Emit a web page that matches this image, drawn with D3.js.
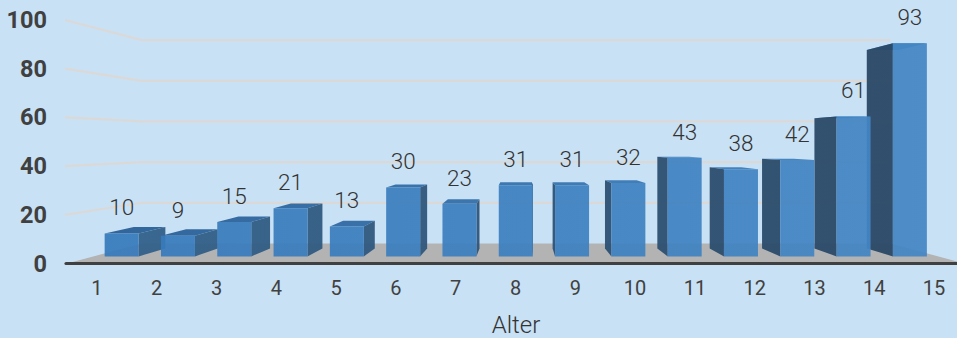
<!DOCTYPE html>
<html>
<head>
<meta charset="utf-8">
<script src="https://cdn.jsdelivr.net/npm/d3@7"></script>
<style>
  html, body { margin: 0; padding: 0; background: #c8e1f5; }
  svg { display: block; }
</style>
</head>
<body>
<svg id="chart" width="957" height="338"></svg>
<script>
const categories = ["1","2","3","4","5","6","7","8","9","10","11","12","13","14","15"];
const values = [10,9,15,21,13,30,23,31,31,32,43,38,42,61,93];
const valueTicks = [0,20,40,60,80,100];
const axisTitle = "Alter";

const svg = d3.select("#chart");
const x = d3.scaleBand().domain(categories).range([67, 964]);
const y = d3.scaleLinear().domain([0, 100]).range([263.5, 20]);

// One-point perspective: depth 0 is the front of the floor, and points recede to the vanishing point.
const vanish = { x: 520, y: 142 };
const floorDepth = 0.165, barFront = 0.0585, barBack = 0.1244, barShare = 0.604;
const project = (px, py, d) => [vanish.x + (px - vanish.x) * (1 - d), vanish.y + (py - vanish.y) * (1 - d)];
const poly = d3.line();
const closed = pts => poly(pts) + "Z";

// Colours shift gently across the width of the chart, as if lit from the right.
const defs = svg.append("defs");
function sweep(id, from, to) {
  const g = defs.append("linearGradient").attr("id", id).attr("gradientUnits", "userSpaceOnUse")
    .attr("x1", 100).attr("x2", 930).attr("y1", 0).attr("y2", 0);
  g.append("stop").attr("offset", 0).attr("stop-color", from);
  g.append("stop").attr("offset", 1).attr("stop-color", to);
}
sweep("frontFill", "#367abb", "#4486c4");
sweep("sideFill", "#33628c", "#294663");
sweep("topFill", "#31659a", "#4a8bc7");

// Floor
const [x0, x1] = x.range();
svg.append("path")
  .attr("d", closed([[x0, y(0)], project(x0, y(0), floorDepth), project(x1, y(0), floorDepth), [x1, y(0)]]))
  .attr("fill", "#b3b3b3");

// Gridlines run along the left wall and then across the back wall
const grid = svg.append("g").attr("fill", "none").attr("stroke", "#dbd9d7").attr("stroke-width", 2.2);
valueTicks.filter(t => t > 0).forEach(t => {
  grid.append("path").attr("d", poly([
    [x0 - 2, y(t)],
    project(x0, y(t), floorDepth),
    project(x1, y(t), floorDepth)
  ]));
});

// Front edge of the floor
svg.append("line")
  .attr("x1", 66).attr("x2", 957).attr("y1", y(0)).attr("y2", y(0))
  .attr("stroke", "#404040").attr("stroke-width", 3.2).attr("stroke-linecap", "round");

// Bars, painted from the outside in so nearer faces overlap correctly
const center = c => x(c) + x.bandwidth() / 2;
const order = categories.slice().sort((a, b) =>
  Math.abs(center(b) - vanish.x) - Math.abs(center(a) - vanish.x));
const half = x.bandwidth() * barShare / 2;
const bars = svg.append("g");
order.forEach(c => {
  const v = values[categories.indexOf(c)];
  const l = center(c) - half, r = center(c) + half;
  const g = bars.append("g").attr("class", "bar");
  const fl = project(l, y(v), barFront), fr = project(r, y(v), barFront);
  const bl = project(l, y(v), barBack), br = project(r, y(v), barBack);
  const fl0 = project(l, y(0), barFront), fr0 = project(r, y(0), barFront);
  g.append("path").attr("d", closed([fl, bl, br, fr])).attr("fill", "url(#topFill)");
  const sideX = center(c) < vanish.x ? r : l;
  g.append("path").attr("d", closed([
    project(sideX, y(0), barFront), project(sideX, y(0), barBack),
    project(sideX, y(v), barBack), project(sideX, y(v), barFront)
  ])).attr("fill", "url(#sideFill)").attr("fill-opacity", 0.95);
  g.append("path").attr("d", closed([fl0, fl, fr, fr0])).attr("fill", "url(#frontFill)").attr("fill-opacity", 0.93);
});

// Value labels above each bar
svg.append("g").selectAll("text").data(categories).join("text")
  .attr("x", c => project(center(c), 0, barFront)[0])
  .attr("y", (c, i) => project(0, y(values[i]), barFront)[1] - 26)
  .attr("dy", "0.35em")
  .attr("text-anchor", "middle")
  .attr("font-family", "Roboto, sans-serif").attr("font-weight", 300).attr("font-size", 22.5)
  .attr("fill", "#333333")
  .text((c, i) => values[i]);

// Value axis
const yAxis = svg.append("g").attr("transform", "translate(47,0)")
  .call(d3.axisLeft(y).tickValues(valueTicks).tickSize(0).tickPadding(0));
yAxis.select(".domain").remove();
yAxis.selectAll("text")
  .attr("font-family", "Roboto, sans-serif").attr("font-weight", 700).attr("font-size", 23.5).attr("fill", "#404040");

// Category axis
const xAxis = svg.append("g").attr("transform", "translate(0,281)")
  .call(d3.axisBottom(x).tickSize(0).tickPadding(0));
xAxis.select(".domain").remove();
xAxis.selectAll("text")
  .attr("font-family", "Roboto, sans-serif").attr("font-size", 20).attr("fill", "#404040");

svg.append("text")
  .attr("x", 516).attr("y", 333).attr("text-anchor", "middle")
  .attr("font-family", "Roboto, sans-serif").attr("font-weight", 300).attr("font-size", 24).attr("fill", "#333333")
  .text(axisTitle);
</script>
</body>
</html>
